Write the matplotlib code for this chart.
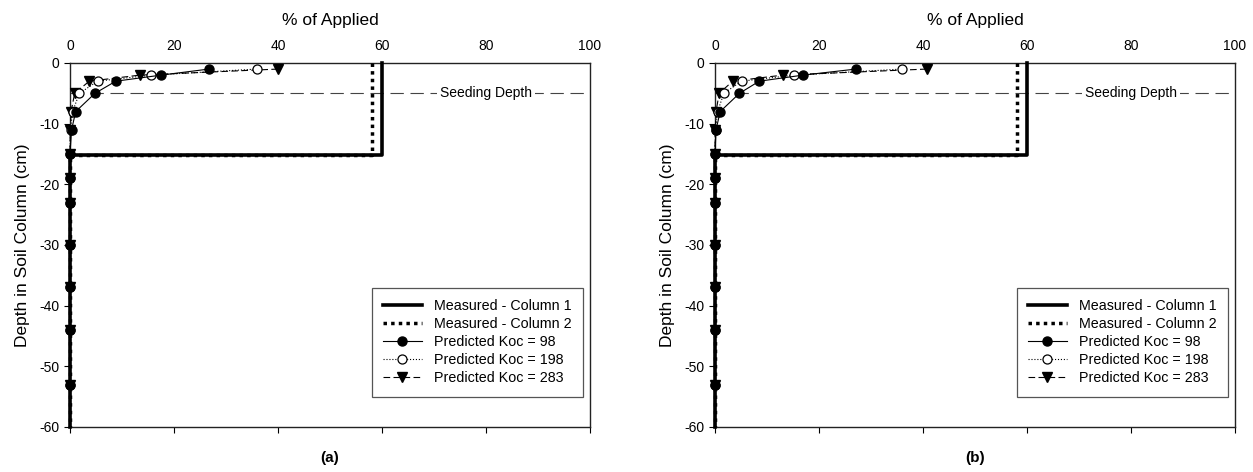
import matplotlib
matplotlib.use("Agg")
import matplotlib.pyplot as plt

plt.rcParams['font.family'] = ['Liberation Sans', 'DejaVu Sans']
plt.rcParams['axes.unicode_minus'] = False

# Measured residues: amount in the 0-15 cm layer, nothing below
meas_depth = [0, -15.2, -15.2, -60]
meas_col1 = [60, 60, 0, 0]
meas_col2 = [58, 58, 0, 0]

# Simulated profiles at node depths (cm)
pred_depth = [-1, -2, -3, -5, -8, -11, -15, -19, -23, -30, -37, -44, -53]
pred_a_koc98 = [26.7, 17.5, 8.8, 4.8, 1.1, 0.3, 0, 0, 0, 0, 0, 0, 0]
pred_a_koc198 = [35.9, 15.6, 5.3, 1.8, 0.5, 0.1, 0, 0, 0, 0, 0, 0, 0]
pred_a_koc283 = [40.0, 13.4, 3.7, 0.9, 0.2, 0.05, 0, 0, 0, 0, 0, 0, 0]

pred_b_koc98 = [27.1, 16.9, 8.5, 4.7, 1.0, 0.2, 0, 0, 0, 0, 0, 0, 0]
pred_b_koc198 = [36.0, 15.2, 5.1, 1.7, 0.5, 0.1, 0, 0, 0, 0, 0, 0, 0]
pred_b_koc283 = [40.7, 13.0, 3.4, 0.8, 0.2, 0.05, 0, 0, 0, 0, 0, 0, 0]

seeding_depth = -5
x_ticks = [0, 20, 40, 60, 80, 100]
y_ticks = [0, -10, -20, -30, -40, -50, -60]

panels = [
    ("(a)", pred_a_koc98, pred_a_koc198, pred_a_koc283),
    ("(b)", pred_b_koc98, pred_b_koc198, pred_b_koc283),
]

fig = plt.figure(figsize=(12.53, 4.72), dpi=100)
lefts = [70 / 1253, 715 / 1253]
bottom = 45 / 472
width = 520 / 1253
height = 364 / 472

for (tag, k98, k198, k283), left in zip(panels, lefts):
    ax = fig.add_axes([left, bottom, width, height])

    ax.axhline(seeding_depth, color='#444444', lw=0.8, ls=(0, (12, 6)), zorder=1)
    ax.text(80, seeding_depth, "Seeding Depth", ha='center', va='center',
            fontsize=10, zorder=2,
            bbox=dict(facecolor='white', edgecolor='none', pad=2))

    ax.plot(meas_col2, meas_depth, color='black', lw=2.5, ls=(0, (1, 1.2)),
            label='Measured - Column 2', zorder=3, clip_on=False)
    ax.plot(meas_col1, meas_depth, color='black', lw=2.6, ls='-',
            label='Measured - Column 1', zorder=4, clip_on=False)

    ax.plot(k283, pred_depth, color='black', lw=0.8, ls=(0, (6, 3)),
            marker='v', ms=6.5, mfc='black', mec='black',
            label='Predicted Koc = 283', zorder=5, clip_on=False)
    ax.plot(k198, pred_depth, color='black', lw=0.8, ls=':',
            marker='o', ms=6.5, mfc='white', mec='black', mew=0.9,
            label='Predicted Koc = 198', zorder=6, clip_on=False)
    ax.plot(k98, pred_depth, color='black', lw=0.8, ls='-',
            marker='o', ms=6.5, mfc='black', mec='black',
            label='Predicted Koc = 98', zorder=7, clip_on=False)

    ax.set_xlim(0, 100)
    ax.set_ylim(-60, 0)
    ax.set_xticks(x_ticks)
    ax.set_yticks(y_ticks)
    ax.tick_params(axis='x', which='both', top=False, bottom=True,
                   labeltop=True, labelbottom=False, direction='out',
                   length=4, labelsize=10)
    ax.tick_params(axis='y', direction='out', length=4, labelsize=10,
                   right=False)
    for sp in ax.spines.values():
        sp.set_linewidth(1.0)
        sp.set_color('#222222')

    ax.xaxis.set_label_position('top')
    ax.set_xlabel("% of Applied", fontsize=12.5)
    ax.xaxis.set_label_coords(0.5, 1.104)
    ax.set_ylabel("Depth in Soil Column (cm)", fontsize=12.5)
    ax.yaxis.set_label_coords(-0.077, 0.5)

    handles, labels = ax.get_legend_handles_labels()
    order = ['Measured - Column 1', 'Measured - Column 2',
             'Predicted Koc = 98', 'Predicted Koc = 198', 'Predicted Koc = 283']
    hmap = dict(zip(labels, handles))
    leg = ax.legend([hmap[o] for o in order], order, loc='lower right',
                    bbox_to_anchor=(0.9865, 0.083), borderaxespad=0,
                    fontsize=10.3, handlelength=2.7, handletextpad=0.85,
                    labelspacing=0.28, fancybox=False, framealpha=1,
                    edgecolor='#555555', borderpad=0.8)
    leg.get_frame().set_linewidth(0.9)

    ax.text(0.5, -0.085, tag, transform=ax.transAxes, ha='center', va='center',
            fontsize=11, fontweight='bold')

fig.savefig("out.png", dpi=100)
